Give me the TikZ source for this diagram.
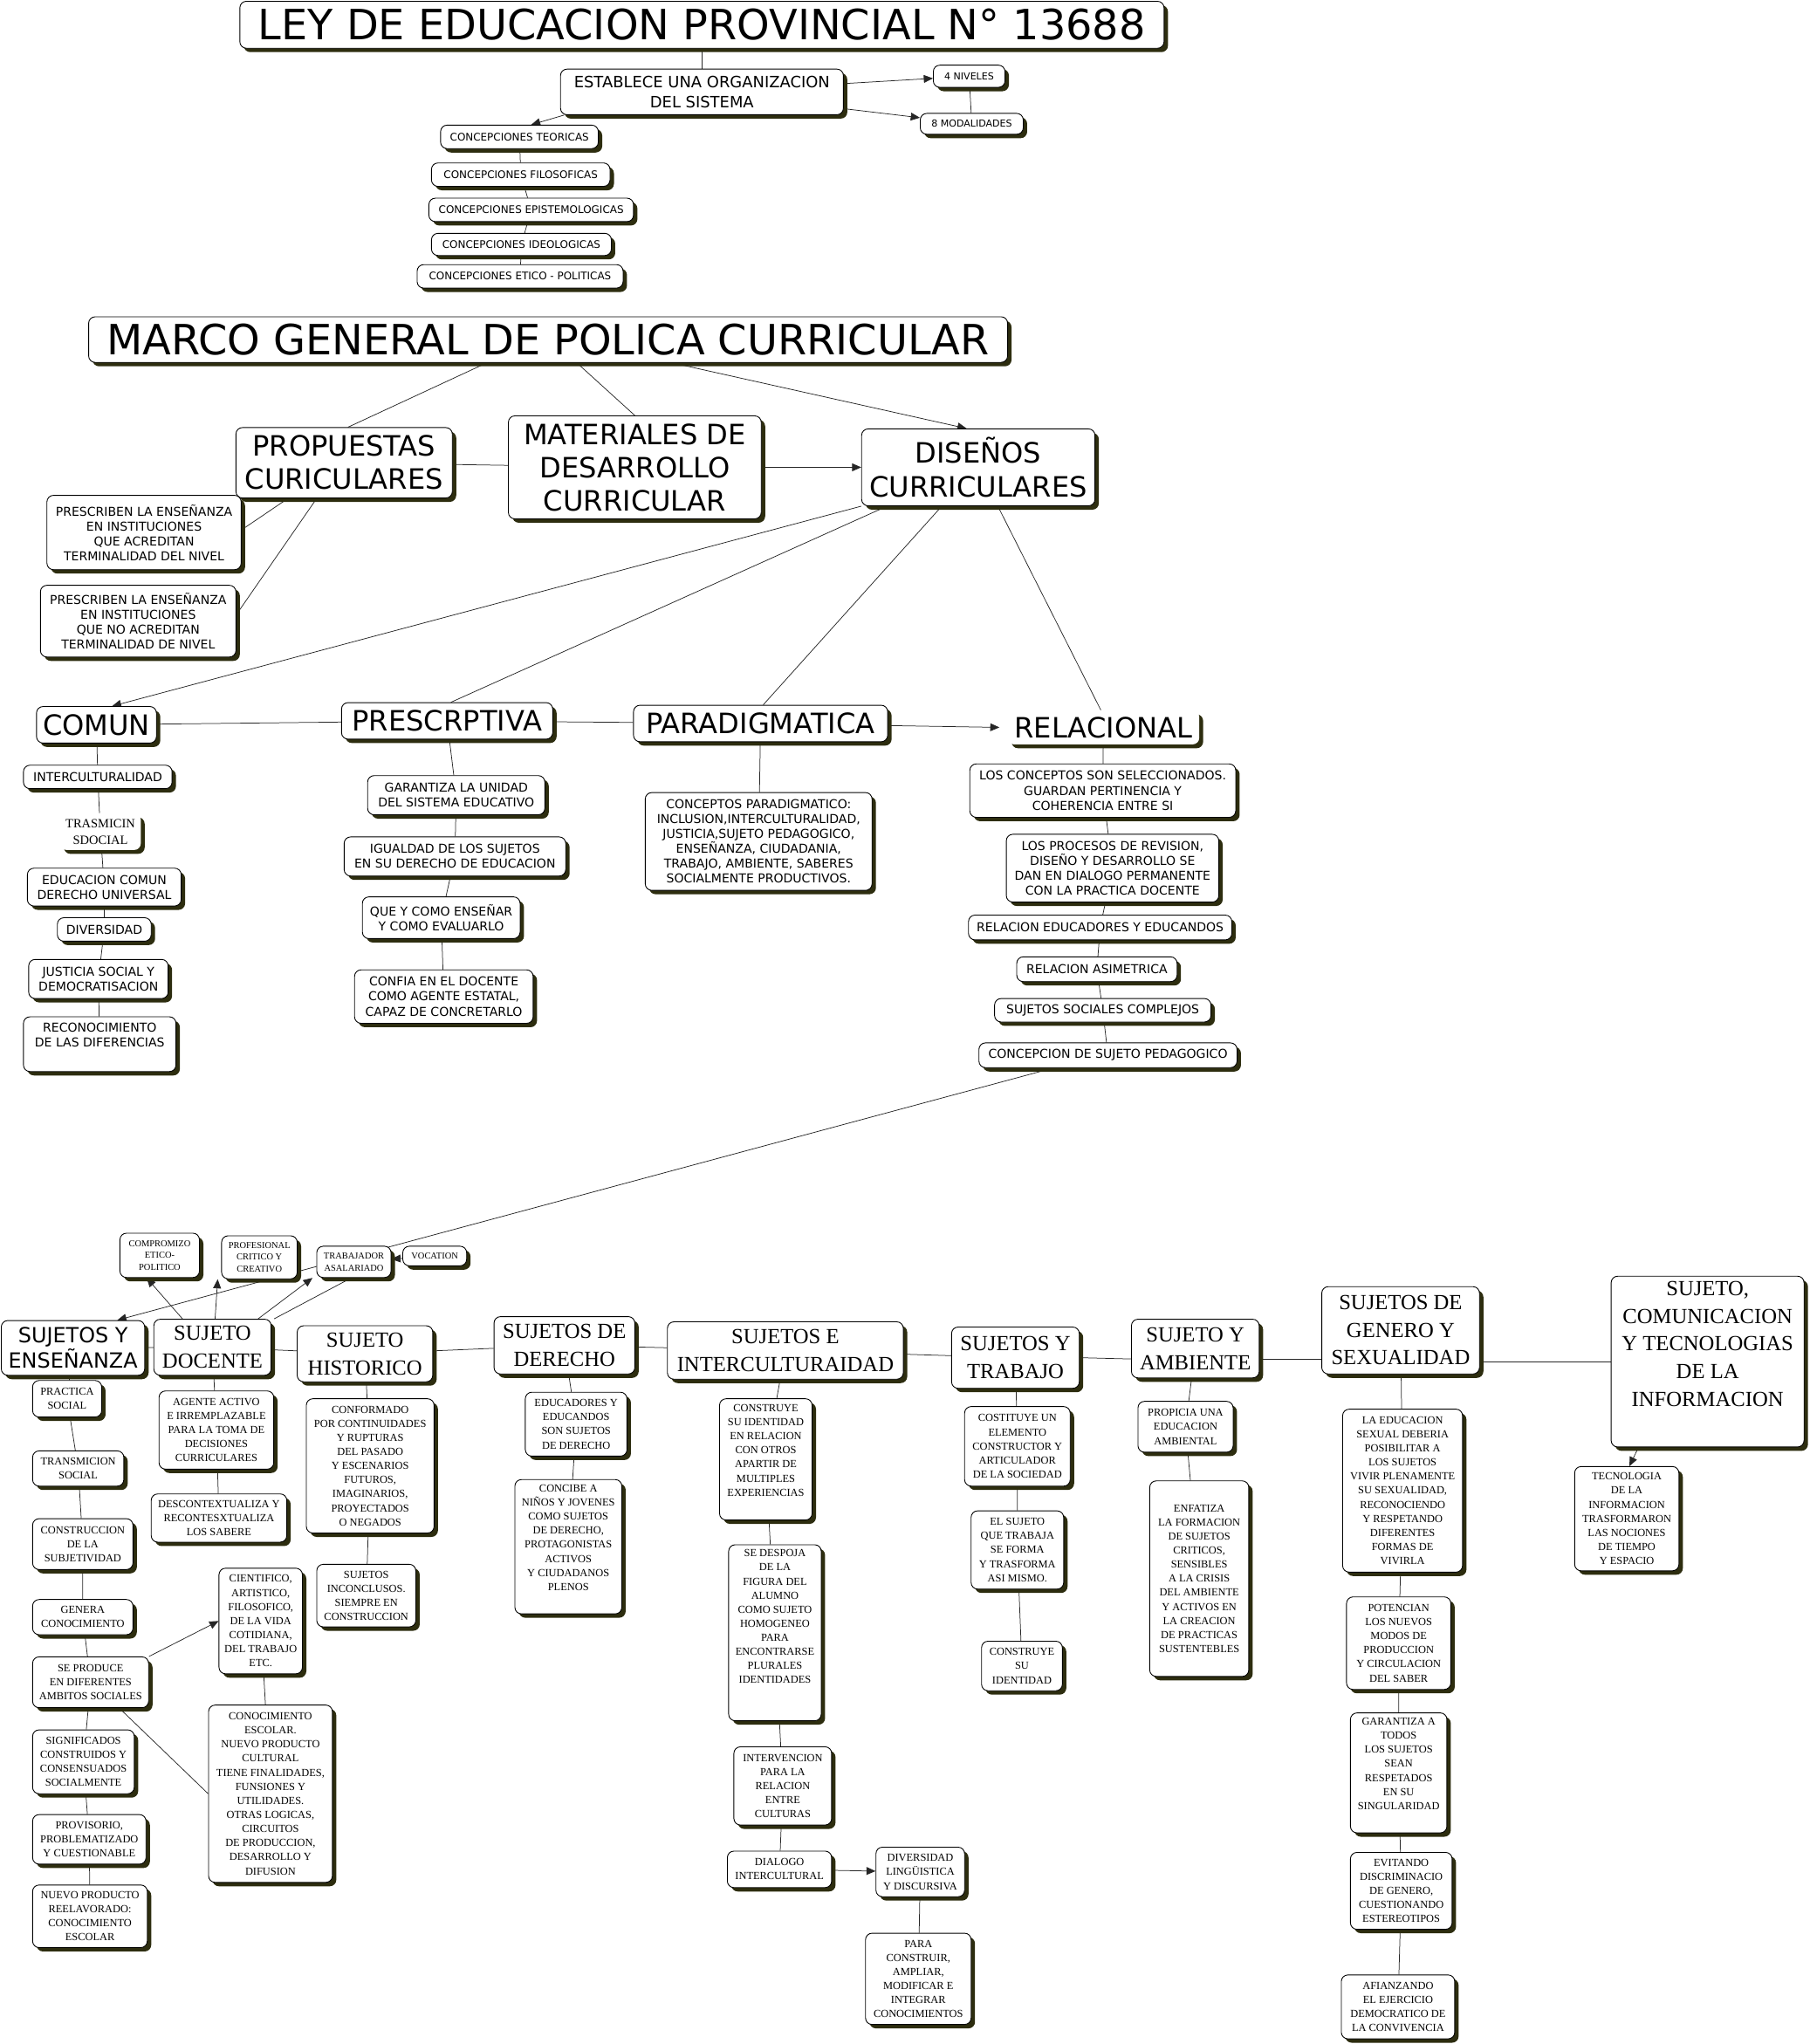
\documentclass[tikz,border=0pt]{standalone}
\usepackage{fontspec}
\setmainfont{Liberation Serif}
\newfontfamily\verd{DejaVu Sans}
\usetikzlibrary{arrows.meta,shadows}
\definecolor{shadowc}{RGB}{45,45,15}
\pgfdeclarelayer{background}
\pgfsetlayers{background,main}
\def\mapbox[#1](#2)(#3,#4,#5,#6)#7{\node[box,#1,minimum width={(#5-#3)*1pt},minimum height={(#6-#4)*1pt}] (#2) at ({(#3+#5)/2},{(#4+#6)/2}) {#7};}
\tikzset{
	box/.style={draw, rounded corners=5pt, fill=white, line width=0.6pt, inner sep=1pt, align=center,
		drop shadow={shadow xshift=3pt, shadow yshift=-3pt, fill=shadowc, opacity=1}},
	big/.style={font=\verd\fontsize{32}{38}\selectfont},
	mid/.style={font=\verd\fontsize{21.5}{25.5}\selectfont},
	est/.style={font=\verd\fontsize{12}{15.2}\selectfont},
	txt/.style={font=\verd\fontsize{9.4}{11.4}\selectfont},
	sml/.style={font=\verd\fontsize{8}{10}\selectfont},
	tin/.style={font=\verd\fontsize{7.4}{9}\selectfont},
	hsans/.style={font=\verd\fontsize{16}{17.9}\selectfont},
	hed/.style={font=\fontsize{16.5}{21.2}\selectfont},
	sr/.style={font=\fontsize{8.3}{10.8}\selectfont},
	srb/.style={font=\fontsize{9.7}{12.7}\selectfont},
	sr7/.style={font=\fontsize{7}{9.2}\selectfont},
	ln/.style={draw=black!85, line width=0.5pt},
	arr/.style={ln, -{Triangle[length=7pt,width=6pt]}}
}
\begin{document}
\begin{tikzpicture}[x=1pt,y=-1pt]
	\useasboundingbox (0,0) rectangle (1388,1568);

	\mapbox[big](ley)(184,1,893,37){LEY DE EDUCACION PROVINCIAL N° 13688}
	\mapbox[est](establece)(430,53,647,88){ESTABLECE UNA ORGANIZACION\\DEL SISTEMA}
	\mapbox[tin](niveles)(716,50,771,67){4 NIVELES}
	\mapbox[tin](modalidades)(706,87,785,103){8 MODALIDADES}
	\mapbox[sml](teoricas)(338,96,459,114){CONCEPCIONES TEORICAS}
	\mapbox[sml](filosoficas)(331,125,468,143){CONCEPCIONES FILOSOFICAS}
	\mapbox[sml](epistemo)(329,152,486,170){CONCEPCIONES EPISTEMOLOGICAS}
	\mapbox[sml](ideologicas)(331,179,469,196){CONCEPCIONES IDEOLOGICAS}
	\mapbox[sml](eticopol)(320,203,478,221){CONCEPCIONES ETICO - POLITICAS}

	\mapbox[big](marco)(68,243,773,278){MARCO GENERAL DE POLICA CURRICULAR}
	\mapbox[mid](propuestas)(181,328,347,382){PROPUESTAS\\CURICULARES}
	\mapbox[mid](materiales)(390,319,584,398){MATERIALES DE\\DESARROLLO\\CURRICULAR}
	\mapbox[mid](disenos)(661,329,840,388){DISEÑOS\\CURRICULARES}
	\mapbox[txt](prescriben1)(36,380,185,437){PRESCRIBEN LA ENSEÑANZA\\EN INSTITUCIONES\\QUE ACREDITAN\\TERMINALIDAD DEL NIVEL}
	\mapbox[txt](prescriben2)(31,449,181,504){PRESCRIBEN LA ENSEÑANZA\\EN INSTITUCIONES\\QUE NO ACREDITAN\\TERMINALIDAD DE NIVEL}

	\mapbox[mid](comun)(28,542,120,570){COMUN}
	\mapbox[mid](prescriptiva)(262,539,424,567){PRESCRPTIVA}
	\mapbox[mid](paradigmatica)(486,541,681,569){PARADIGMATICA}
	\mapbox[mid,draw=none](relacional)(773,545,920,571){RELACIONAL}

	\mapbox[txt](intercult)(18,587,132,605){INTERCULTURALIDAD}
	\mapbox[srb,draw=none](trasmicin)(46,624,108,652){TRASMICIN\\SDOCIAL}
	\mapbox[txt](edcomun)(21,666,139,695){EDUCACION COMUN\\DERECHO UNIVERSAL}
	\mapbox[txt](diversidad)(44,704,116,722){DIVERSIDAD}
	\mapbox[txt](justicia)(22,736,129,766){JUSTICIA SOCIAL Y\\DEMOCRATISACION}
	\mapbox[txt](reconoc)(18,780,135,822){RECONOCIMIENTO\\DE LAS DIFERENCIAS\\\strut}

	\mapbox[txt](garantiza)(282,595,418,625){GARANTIZA LA UNIDAD\\DEL SISTEMA EDUCATIVO}
	\mapbox[txt](igualdad)(264,642,434,672){IGUALDAD DE LOS SUJETOS\\EN SU DERECHO DE EDUCACION}
	\mapbox[txt](quecomo)(278,688,399,720){QUE Y COMO ENSEÑAR\\Y COMO EVALUARLO}
	\mapbox[txt](confia)(272,744,409,785){CONFIA EN EL DOCENTE\\COMO AGENTE ESTATAL,\\CAPAZ DE CONCRETARLO}

	\mapbox[txt](conceptos)(495,608,669,683){CONCEPTOS PARADIGMATICO:\\INCLUSION,INTERCULTURALIDAD,\\JUSTICIA,SUJETO PEDAGOGICO,\\ENSEÑANZA, CIUDADANIA,\\TRABAJO, AMBIENTE, SABERES\\SOCIALMENTE PRODUCTIVOS.}

	\mapbox[txt](rel1)(744,586,948,627){LOS CONCEPTOS SON SELECCIONADOS.\\GUARDAN PERTINENCIA Y\\COHERENCIA ENTRE SI}
	\mapbox[txt](rel2)(772,640,935,692){LOS PROCESOS DE REVISION,\\DISEÑO Y DESARROLLO SE\\DAN EN DIALOGO PERMANENTE\\CON LA PRACTICA DOCENTE}
	\mapbox[txt](rel3)(743,702,945,721){RELACION EDUCADORES Y EDUCANDOS}
	\mapbox[txt](rel4)(780,734,903,753){RELACION ASIMETRICA}
	\mapbox[txt](rel5)(763,766,929,784){SUJETOS SOCIALES COMPLEJOS}
	\mapbox[txt](rel6)(751,800,949,819){CONCEPCION DE SUJETO PEDAGOGICO}

	\mapbox[sr7](compromiso)(92,946,153,980){COMPROMIZO\\ETICO-\\POLITICO}
	\mapbox[sr7](profesional)(170,948,228,981){PROFESIONAL\\CRITICO Y\\CREATIVO}
	\mapbox[sr7](trabajador)(243,956,300,980){TRABAJADOR\\ASALARIADO}
	\mapbox[sr7](vocation)(309,956,358,971){VOCATION}

	\mapbox[hsans](sye)(1,1013,111,1055){SUJETOS Y\\ENSEÑANZA}
	\mapbox[hed](docente)(118,1012,208,1055){SUJETO\\DOCENTE}
	\mapbox[hed](historico)(228,1017,332,1060){SUJETO\\HISTORICO}
	\mapbox[hed](derecho)(379,1010,487,1054){SUJETOS DE\\DERECHO}
	\mapbox[hed](intercult2)(512,1014,693,1058){SUJETOS E\\INTERCULTURAIDAD}
	\mapbox[hed](trabajo)(730,1018,828,1065){SUJETOS Y\\TRABAJO}
	\mapbox[hed](ambiente)(868,1012,966,1057){SUJETO Y\\AMBIENTE}
	\mapbox[hed](genero)(1014,987,1135,1054){SUJETOS DE\\GENERO Y\\SEXUALIDAD}
	\mapbox[hed](comunicacion)(1236,979,1384,1110){SUJETO,\\COMUNICACION\\Y TECNOLOGIAS\\DE LA\\INFORMACION\\\strut}

	\mapbox[sr](practica)(25,1059,78,1087){PRACTICA\\SOCIAL}
	\mapbox[sr](transmicion)(25,1113,95,1140){TRANSMICION\\SOCIAL}
	\mapbox[sr](construccion)(25,1165,102,1204){CONSTRUCCION\\DE LA\\SUBJETIVIDAD}
	\mapbox[sr](genera)(25,1227,102,1254){GENERA\\CONOCIMIENTO}
	\mapbox[sr](seproduce)(25,1271,114,1310){SE PRODUCE\\EN DIFERENTES\\AMBITOS SOCIALES}
	\mapbox[sr](significados)(25,1327,103,1376){SIGNIFICADOS\\CONSTRUIDOS Y\\CONSENSUADOS\\SOCIALMENTE}
	\mapbox[sr](provisorio)(25,1392,112,1430){PROVISORIO,\\PROBLEMATIZADO\\Y CUESTIONABLE}
	\mapbox[sr](nuevo)(25,1446,113,1494){NUEVO PRODUCTO\\REELAVORADO:\\CONOCIMIENTO\\ESCOLAR}

	\mapbox[sr](agente)(122,1067,210,1127){AGENTE ACTIVO\\E IRREMPLAZABLE\\PARA LA TOMA DE\\DECISIONES\\CURRICULARES}
	\mapbox[sr](descontext)(116,1146,220,1183){DESCONTEXTUALIZA Y\\RECONTESXTUALIZA\\LOS SABERE}
	\mapbox[sr](cientifico)(168,1203,232,1284){CIENTIFICO,\\ARTISTICO,\\FILOSOFICO,\\DE LA VIDA\\COTIDIANA,\\DEL TRABAJO\\ETC.}
	\mapbox[sr](conocesc)(160,1308,255,1444){CONOCIMIENTO\\ESCOLAR.\\NUEVO PRODUCTO\\CULTURAL\\TIENE FINALIDADES,\\FUNSIONES Y\\UTILIDADES.\\OTRAS LOGICAS,\\CIRCUITOS\\DE PRODUCCION,\\DESARROLLO Y\\DIFUSION}

	\mapbox[sr](conformado)(235,1073,333,1176){CONFORMADO\\POR CONTINUIDADES\\Y RUPTURAS\\DEL PASADO\\Y ESCENARIOS\\FUTUROS,\\IMAGINARIOS,\\PROYECTADOS\\O NEGADOS}
	\mapbox[sr](inconclusos)(243,1200,319,1248){SUJETOS\\INCONCLUSOS.\\SIEMPRE EN\\CONSTRUCCION}

	\mapbox[sr](educadores)(403,1068,481,1117){EDUCADORES Y\\EDUCANDOS\\SON SUJETOS\\DE DERECHO}
	\mapbox[sr](concibe)(395,1135,477,1238){CONCIBE A\\NIÑOS Y JOVENES\\COMO SUJETOS\\DE DERECHO,\\PROTAGONISTAS\\ACTIVOS\\Y CIUDADANOS\\PLENOS\\\strut}

	\mapbox[sr](construye)(552,1073,623,1166){CONSTRUYE\\SU IDENTIDAD\\EN RELACION\\CON OTROS\\APARTIR DE\\MULTIPLES\\EXPERIENCIAS\\\strut}
	\mapbox[sr](despoja)(559,1185,630,1320){SE DESPOJA\\DE LA\\FIGURA DEL\\ALUMNO\\COMO SUJETO\\HOMOGENEO\\PARA\\ENCONTRARSE\\PLURALES\\IDENTIDADES\\\strut\\\strut}
	\mapbox[sr](intervencion)(563,1340,638,1400){INTERVENCION\\PARA LA\\RELACION\\ENTRE\\CULTURAS}
	\mapbox[sr](dialogo)(558,1420,638,1448){DIALOGO\\INTERCULTURAL}
	\mapbox[sr](diversidad2)(672,1417,740,1455){DIVERSIDAD\\LINGÜISTICA\\Y DISCURSIVA}
	\mapbox[sr](para)(664,1483,745,1553){PARA\\CONSTRUIR,\\AMPLIAR,\\MODIFICAR E\\INTEGRAR\\CONOCIMIENTOS}

	\mapbox[sr](costituye)(740,1079,821,1140){COSTITUYE UN\\ELEMENTO\\CONSTRUCTOR Y\\ARTICULADOR\\DE LA SOCIEDAD}
	\mapbox[sr](elsujeto)(745,1159,816,1219){EL SUJETO\\QUE TRABAJA\\SE FORMA\\Y TRASFORMA\\ASI MISMO.}
	\mapbox[sr](construye2)(753,1259,815,1297){CONSTRUYE\\SU\\IDENTIDAD}

	\mapbox[sr](propicia)(873,1075,946,1114){PROPICIA UNA\\EDUCACION\\AMBIENTAL}
	\mapbox[sr](enfatiza)(882,1136,958,1286){ENFATIZA\\LA FORMACION\\DE SUJETOS\\CRITICOS,\\SENSIBLES\\A LA CRISIS\\DEL AMBIENTE\\Y ACTIVOS EN\\LA CREACION\\DE PRACTICAS\\SUSTENTEBLES}

	\mapbox[sr](laeducacion)(1030,1081,1122,1206){LA EDUCACION\\SEXUAL DEBERIA\\POSIBILITAR A\\LOS SUJETOS\\VIVIR PLENAMENTE\\SU SEXUALIDAD,\\RECONOCIENDO\\Y RESPETANDO\\DIFERENTES\\FORMAS DE\\VIVIRLA}
	\mapbox[sr](potencian)(1033,1225,1113,1296){POTENCIAN\\LOS NUEVOS\\MODOS DE\\PRODUCCION\\Y CIRCULACION\\DEL SABER}
	\mapbox[sr](garantiza2)(1036,1314,1110,1406){GARANTIZA A\\TODOS\\LOS SUJETOS\\SEAN\\RESPETADOS\\EN SU\\SINGULARIDAD\\\strut}
	\mapbox[sr](evitando)(1036,1421,1114,1480){EVITANDO\\DISCRIMINACIO\\DE GENERO,\\CUESTIONANDO\\ESTEREOTIPOS}
	\mapbox[sr](afianzando)(1029,1515,1116,1564){AFIANZANDO\\EL EJERCICIO\\DEMOCRATICO DE\\LA CONVIVENCIA}

	\mapbox[sr](tecnologia)(1208,1125,1288,1205){TECNOLOGIA\\DE LA\\INFORMACION\\TRASFORMARON\\LAS NOCIONES\\DE TIEMPO\\Y ESPACIO}

	\begin{pgfonlayer}{background}
		\draw[ln] (ley) -- (establece);
		\draw[arr] (establece) -- (niveles);
		\draw[arr] (establece) -- (modalidades);
		\draw[ln] (niveles) -- (modalidades);
		\draw[arr] ([xshift=3pt]establece.south west) -- ([xshift=9pt]teoricas.north);
		\draw[ln] (teoricas) -- (filosoficas) -- (epistemo) -- (ideologicas) -- (eticopol);

		\draw[ln] ([xshift=-47pt]marco.south) -- ([xshift=3pt]propuestas.north);
		\draw[ln] ([xshift=22pt]marco.south) -- (materiales.north);
		\draw[arr] ([xshift=95pt]marco.south) -- ([xshift=-9pt]disenos.north);
		\draw[ln] (propuestas) -- (materiales);
		\draw[arr] (materiales) -- (disenos);
		\draw[ln] ([xshift=-43pt]propuestas.south) -- ([yshift=2pt]prescriben1.east);
		\draw[ln] ([xshift=-21pt]propuestas.south) -- ([yshift=5pt]prescriben2.east);

		\draw[arr] (disenos.south west) -- ([xshift=12pt]comun.north);
		\draw[ln] ([xshift=-70pt]disenos.south) -- ([xshift=3pt]prescriptiva.north);
		\draw[ln] ([xshift=-28pt]disenos.south) -- ([xshift=2pt]paradigmatica.north);
		\draw[ln] ([xshift=15pt]disenos.south) -- ([xshift=-2pt]relacional.north);
		\draw[ln] (comun) -- (prescriptiva) -- (paradigmatica);
		\draw[arr] (paradigmatica) -- ([xshift=-6pt]relacional.west);

		\draw[ln] (comun) -- (intercult) -- (trasmicin) -- (edcomun) -- (diversidad) -- (justicia) -- (reconoc);
		\draw[ln] (prescriptiva) -- (garantiza) -- (igualdad) -- (quecomo) -- (confia);
		\draw[ln] (paradigmatica) -- (conceptos);
		\draw[ln] (relacional) -- (rel1) -- (rel2) -- (rel3) -- (rel4) -- (rel5) -- (rel6);

		\draw[arr] ([xshift=-42pt]rel6.south) -- ([xshift=34pt]sye.north);
		\draw[arr] ([xshift=-23pt]docente.north) -- ([xshift=-10pt]compromiso.south);
		\draw[arr] ([xshift=2pt]docente.north) -- ([xshift=-32pt]profesional.south);
		\draw[arr] ([xshift=35pt]docente.north) -- ([xshift=-3pt]trabajador.south west);
		\draw[ln] ([xshift=-2pt]trabajador.south) -- ([xshift=2pt]docente.north east);
		\draw[arr] (vocation) -- (trabajador);

		\draw[ln] (sye) -- (docente) -- (historico) -- (derecho) -- (intercult2) -- (trabajo);
		\draw[ln] (trabajo.east) -- ([yshift=-8pt]ambiente.west);
		\draw[ln] ([yshift=-8pt]ambiente.east) -- ([yshift=-22pt]genero.west);
		\draw[ln] ([yshift=-24pt]genero.east) -- (comunicacion.west);

		\draw[ln] (sye) -- (practica) -- (transmicion) -- (construccion) -- (genera) -- (seproduce) -- (significados) -- (provisorio) -- (nuevo);
		\draw[arr] (seproduce.north east) -- (cientifico.west);
		\draw[ln] ([xshift=22pt]seproduce.south) -- (conocesc.west);
		\draw[ln] (docente) -- (agente) -- (descontext);
		\draw[ln] (cientifico) -- (conocesc);
		\draw[ln] (historico) -- (conformado) -- (inconclusos);
		\draw[ln] (derecho) -- (educadores) -- (concibe);
		\draw[ln] (intercult2) -- (construye) -- (despoja) -- (intervencion) -- (dialogo);
		\draw[arr] (dialogo) -- (diversidad2);
		\draw[ln] (diversidad2) -- (para);
		\draw[ln] (trabajo) -- (costituye) -- (elsujeto) -- (construye2);
		\draw[ln] (ambiente) -- (propicia) -- (enfatiza);
		\draw[ln] (genero) -- (laeducacion) -- (potencian) -- (garantiza2) -- (evitando) -- (afianzando);
		\draw[arr] ([xshift=-53pt]comunicacion.south) -- ([xshift=2pt]tecnologia.north);
	\end{pgfonlayer}
\end{tikzpicture}
\end{document}
